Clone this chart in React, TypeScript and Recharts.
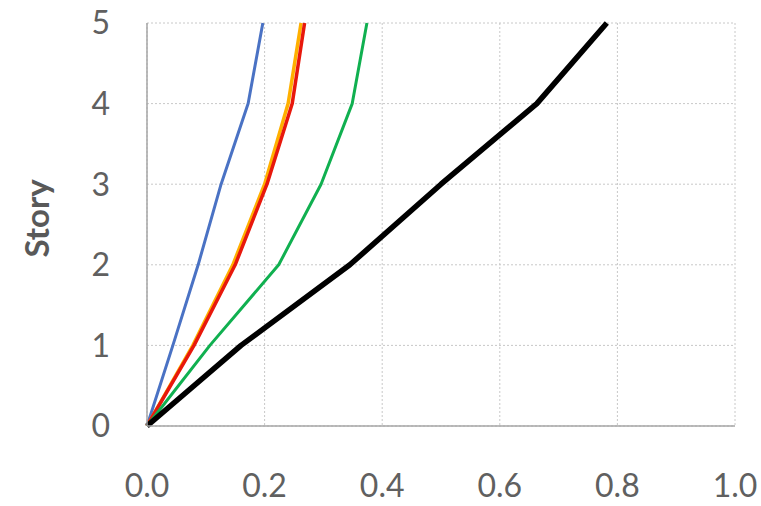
import { LineChart, Line, XAxis, YAxis, CartesianGrid } from 'recharts';

// drift ratio at each story, one list per series
const stories = [0, 1, 2, 3, 4, 5];
const blueDrift = [0, 0.044, 0.087, 0.126, 0.172, 0.197];
const orangeDrift = [0, 0.078, 0.146, 0.2, 0.24, 0.262];
const redDrift = [0, 0.08, 0.15, 0.204, 0.247, 0.268];
const greenDrift = [0, 0.107, 0.224, 0.296, 0.349, 0.374];
const blackDrift = [0, 0.16, 0.345, 0.5, 0.663, 0.782];

const xTicks = [0, 0.2, 0.4, 0.6, 0.8, 1.0];
const yTicks = [0, 1, 2, 3, 4, 5];

const toPoints = (drift: number[]) =>
  drift.map((x, i) => ({ drift: x, story: stories[i] }));

const series = [
  { name: 'blue', color: '#4a72c4', width: 3, data: toPoints(blueDrift) },
  { name: 'orange', color: '#ffb000', width: 3.5, data: toPoints(orangeDrift) },
  { name: 'red', color: '#e8180c', width: 3.5, data: toPoints(redDrift) },
  { name: 'green', color: '#10b050', width: 3, data: toPoints(greenDrift) },
  { name: 'black', color: '#000000', width: 5.5, data: toPoints(blackDrift) },
];

const tickStyle = { fontFamily: 'Lato, sans-serif', fontSize: 32, fill: '#606060' };

const StoryLabel = ({ viewBox }: any) => {
  const cy = viewBox.y + viewBox.height / 2 - 6;
  return (
    <text
      x={36}
      y={cy}
      transform={`rotate(-90, 36, ${cy})`}
      textAnchor="middle"
      dominantBaseline="central"
      fontFamily="Lato, sans-serif"
      fontWeight="bold"
      fontSize={33}
      fill="#595959"
    >
      Story
    </text>
  );
};

export default function App() {
  return (
    <div style={{ position: 'absolute', left: 0, top: 0, background: '#fff' }}>
      <LineChart
        width={761}
        height={506}
        margin={{ top: 23, right: 26, bottom: 0, left: 0 }}
      >
        <CartesianGrid stroke="#c8c8c8" strokeDasharray="2 2" />
        <XAxis
          type="number"
          dataKey="drift"
          domain={[0, 1]}
          ticks={xTicks}
          tickFormatter={(v: number) => v.toFixed(1)}
          height={80}
          axisLine={{ stroke: '#a6a6a6', strokeWidth: 1.5 }}
          tickLine={false}
          tickSize={0}
          tickMargin={48}
          tick={tickStyle}
          interval={0}
        />
        <YAxis
          type="number"
          dataKey="story"
          domain={[0, 5]}
          ticks={yTicks}
          width={147}
          axisLine={{ stroke: '#a6a6a6', strokeWidth: 1.5 }}
          tickLine={false}
          tickSize={0}
          tickMargin={37}
          tick={tickStyle}
          interval={0}
          label={<StoryLabel />}
        />
        {series.map((s) => (
          <Line
            key={s.name}
            data={s.data}
            dataKey="story"
            type="linear"
            stroke={s.color}
            strokeWidth={s.width}
            strokeLinejoin="round"
            dot={false}
            activeDot={false}
            isAnimationActive={false}
          />
        ))}
      </LineChart>
    </div>
  );
}
